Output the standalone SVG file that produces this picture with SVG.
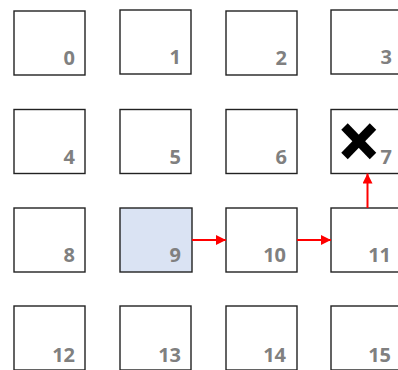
<svg xmlns="http://www.w3.org/2000/svg" width="398" height="370" viewBox="0 0 398 370">
<style>
.box{fill:#fff;stroke:#222;stroke-width:1.4}
.sel{fill:#dae3f3}
.lbl{font-family:"Open Sans","Liberation Sans",sans-serif;font-weight:bold;font-size:20px;fill:#808080;text-anchor:end}
.arr{stroke:#f00;stroke-width:2;fill:none;marker-end:url(#ah)}
</style>
<defs>
<marker id="ah" viewBox="0 0 10 10" refX="10" refY="5" markerWidth="5" markerHeight="5" orient="auto" markerUnits="strokeWidth">
<path d="M0,0 L10,5 L0,10 z" fill="#f00"/>
</marker>
</defs>
<rect width="398" height="370" fill="#fff"/>
<g id="n0"><rect class="box" x="14" y="11" width="71" height="64"/><text class="lbl" x="75" y="65">0</text></g>
<g id="n1"><rect class="box" x="120" y="10" width="71" height="64"/><text class="lbl" x="181" y="64">1</text></g>
<g id="n2"><rect class="box" x="226" y="11" width="71" height="64"/><text class="lbl" x="287" y="65">2</text></g>
<g id="n3"><rect class="box" x="331" y="10" width="71" height="64"/><text class="lbl" x="392" y="64">3</text></g>
<g id="n4"><rect class="box" x="14" y="109.5" width="71" height="64"/><text class="lbl" x="75" y="163.5">4</text></g>
<g id="n5"><rect class="box" x="120" y="109.5" width="71" height="64"/><text class="lbl" x="181" y="163.5">5</text></g>
<g id="n6"><rect class="box" x="226" y="109.5" width="71" height="64"/><text class="lbl" x="287" y="163.5">6</text></g>
<g id="n7"><rect class="box" x="331" y="109.5" width="71" height="64"/><text class="lbl" x="392" y="163.5">7</text>
<g stroke="#000" stroke-width="9"><line x1="344.5" y1="126.5" x2="373" y2="156"/><line x1="373" y1="126.5" x2="344.5" y2="156"/></g></g>
<g id="n8"><rect class="box" x="14" y="208" width="71" height="64"/><text class="lbl" x="75" y="262">8</text></g>
<g id="n9"><rect class="box sel" x="120" y="208" width="72" height="64"/><text class="lbl" x="181" y="262">9</text></g>
<g id="n10"><rect class="box" x="226" y="208" width="71" height="64"/><text class="lbl" x="286" y="262">10</text></g>
<g id="n11"><rect class="box" x="331" y="208" width="71" height="64"/><text class="lbl" x="391" y="262">11</text></g>
<g id="n12"><rect class="box" x="14" y="306" width="71" height="64"/><text class="lbl" x="75" y="362">12</text></g>
<g id="n13"><rect class="box" x="120" y="306" width="71" height="64"/><text class="lbl" x="181" y="362">13</text></g>
<g id="n14"><rect class="box" x="226" y="306" width="71" height="64"/><text class="lbl" x="286" y="362">14</text></g>
<g id="n15"><rect class="box" x="331" y="306" width="71" height="64"/><text class="lbl" x="391" y="362">15</text></g>
<g id="connectors">
<line class="arr" x1="192" y1="240" x2="226" y2="240"/>
<line class="arr" x1="297" y1="240" x2="331" y2="240"/>
<line class="arr" x1="367.5" y1="208" x2="367.5" y2="173.5"/>
</g>
</svg>
